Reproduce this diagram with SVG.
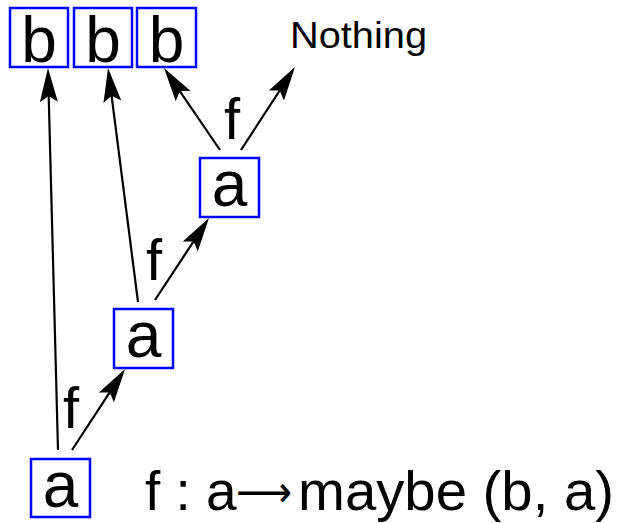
<svg xmlns="http://www.w3.org/2000/svg" width="626" height="523" viewBox="0 0 626 523">
<style>
.box{fill:#fff;stroke:#0000ff;stroke-width:2.5}
.lbl{font-family:"Liberation Sans",Arial,sans-serif;font-size:64px;fill:#000;text-anchor:middle}
.f{font-family:"Liberation Sans",Arial,sans-serif;font-size:58px;fill:#000;text-anchor:middle}
.txt{font-family:"Liberation Sans",Arial,sans-serif;font-size:55px;fill:#000}
.conn{stroke:#000;stroke-width:2.2;fill:none;marker-end:url(#ah)}
</style>
<defs>
<marker id="ah" markerUnits="userSpaceOnUse" viewBox="-10 -11 40 22" markerWidth="40" markerHeight="22" refX="0" refY="0" orient="auto" overflow="visible">
<path d="M28,0 L-6,-9 L0,0 L-6,9 Z" fill="#000"/>
</marker>
</defs>
<rect width="626" height="523" fill="#fff"/>
<g id="connectors">
<line class="conn" x1="58" y1="450" x2="48.7" y2="96"/>
<line class="conn" x1="72" y1="450" x2="109.7" y2="392.4"/>
<line class="conn" x1="138" y1="302" x2="111.6" y2="95.8"/>
<line class="conn" x1="155" y1="300" x2="193.6" y2="241.4"/>
<line class="conn" x1="220" y1="150" x2="179.8" y2="91.1"/>
<line class="conn" x1="241" y1="150" x2="279.7" y2="90.5"/>
</g>
<g id="b1"><rect class="box" x="10" y="8" width="58" height="59"/><text class="lbl" x="39" y="62">b</text></g>
<g id="b2"><rect class="box" x="74" y="8" width="58" height="59"/><text class="lbl" x="103" y="62">b</text></g>
<g id="b3"><rect class="box" x="137" y="8" width="59" height="59"/><text class="lbl" x="166.5" y="62">b</text></g>
<g id="nothing"><text x="290" y="48" font-family="Liberation Sans, Arial, sans-serif" font-size="36" textLength="137" lengthAdjust="spacingAndGlyphs">Nothing</text></g>
<g id="a3"><rect class="box" x="200" y="158" width="59" height="59"/><text class="lbl" x="229.5" y="206">a</text></g>
<g id="a2"><rect class="box" x="114" y="309" width="59" height="59"/><text class="lbl" x="143.5" y="357">a</text></g>
<g id="a1"><rect class="box" x="31" y="459" width="59" height="58"/><text class="lbl" x="60.5" y="507">a</text></g>
<g id="labels">
<text class="f" x="232" y="139">f</text>
<text class="f" x="154" y="280">f</text>
<text class="f" x="71" y="428">f</text>
<text class="txt" x="145" y="510">f : a</text>
<text x="236" y="507" font-family="DejaVu Sans, sans-serif" font-size="44" textLength="56" lengthAdjust="spacingAndGlyphs">⟶</text>
<text class="txt" x="298" y="510" textLength="316" lengthAdjust="spacingAndGlyphs">maybe (b, a)</text>
</g>
</svg>
